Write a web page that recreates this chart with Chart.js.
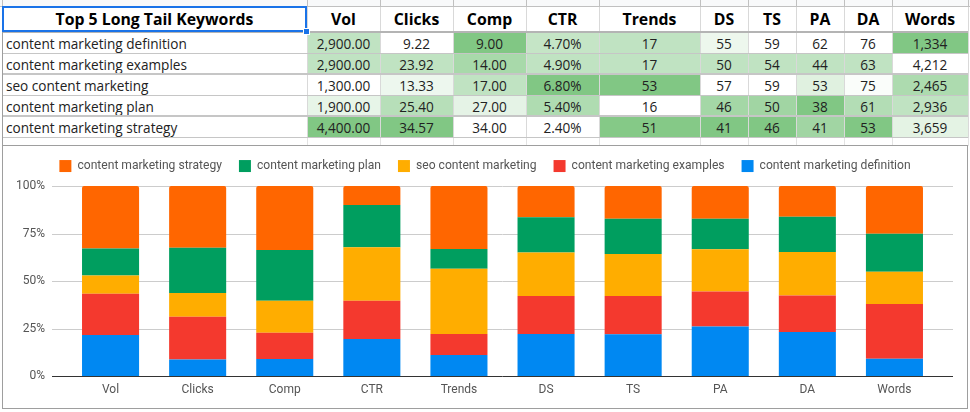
<!DOCTYPE html>
<html>
<head>
<meta charset="utf-8">
<script src="https://cdn.jsdelivr.net/npm/chart.js@4.4.1/dist/chart.umd.min.js"></script>
<style>
  body { margin: 0; width: 970px; height: 412px; position: relative; overflow: hidden; background: #fff; }
  .cell { position: absolute; box-sizing: border-box; font-family: 'Open Sans', sans-serif; font-size: 13.6px; color: #222;
          display: flex; align-items: center; justify-content: center; white-space: nowrap; overflow: hidden; }
  .hdr { font-weight: 700; font-size: 15.8px; color: #000; }
  .kw { justify-content: flex-start; padding-left: 3px; }
  .hl { position: absolute; background: #c6c6c6; }
  .vl { position: absolute; background: #d9d9d9; width: 1px; }
  #box { position: absolute; left: 2px; top: 145px; width: 964px; height: 262px; border: 1px solid #9e9e9e; background: #fff; }
</style>
</head>
<body>
<div id="sheet"></div>
<div id="box"><canvas id="keyword_chart" width="964" height="262"></canvas></div>
<script>
const keywords = ['content marketing definition', 'content marketing examples', 'seo content marketing', 'content marketing plan', 'content marketing strategy'];
const metrics = ['Vol', 'Clicks', 'Comp', 'CTR', 'Trends', 'DS', 'TS', 'PA', 'DA', 'Words'];

const vol    = [2900, 2900, 1300, 1900, 4400];
const clicks = [9.22, 23.92, 13.33, 25.40, 34.57];
const comp   = [9, 14, 17, 27, 34];
const ctr    = [4.7, 4.9, 6.8, 5.4, 2.4];
const trends = [17, 17, 53, 16, 51];
const ds     = [55, 50, 57, 46, 41];
const ts     = [59, 54, 59, 50, 46];
const pa     = [62, 44, 53, 38, 41];
const da     = [76, 63, 75, 61, 53];
const words  = [1334, 4212, 2465, 2936, 3659];

const columns = [vol, clicks, comp, ctr, trends, ds, ts, pa, da, words];
const yTicks = [0, 25, 50, 75, 100];

// ---- spreadsheet table ----
const colX = [2, 307, 380, 453, 526, 599, 700, 748, 796, 844, 892, 968];
const reversed = [false, false, true, false, false, true, true, true, true, true]; // low value = green
const fmt = [
  v => v.toLocaleString('en-US', {minimumFractionDigits: 2}),
  v => v.toFixed(2),
  v => v.toFixed(2),
  v => v.toFixed(2) + '%',
  v => String(v), v => String(v), v => String(v), v => String(v), v => String(v),
  v => v.toLocaleString('en-US')
];

function scaleColor(v, arr, rev) {
  const s = [...arr].sort((a, b) => a - b);
  const min = s[0], med = s[2], max = s[s.length - 1];
  let t = v <= med ? (med === min ? 0 : 0.5 * (v - min) / (med - min)) : 0.5 + 0.5 * (v - med) / (max - med);
  if (rev) t = 1 - t;
  const c = [255 + (129 - 255) * t, 255 + (199 - 255) * t, 255 + (132 - 255) * t].map(Math.round);
  return `rgb(${c.join(',')})`;
}

const sheet = document.getElementById('sheet');
function add(cls, style, text) {
  const d = document.createElement('div');
  d.className = cls;
  Object.assign(d.style, style);
  if (text !== undefined) d.textContent = text;
  sheet.appendChild(d);
  return d;
}

// column header strip
add('', {position: 'absolute', left: '0px', top: '0px', width: '970px', height: '6px', background: '#f8f9fa', borderBottom: '1px solid #c0c0c0'});
colX.forEach(x => add('vl', {left: x + 'px', top: '0px', height: '6px', background: '#c0c0c0'}));

const rowTop = [33, 54, 75, 96, 117];
const rowH = 20;

// header row
add('cell hdr', {left: '2px', top: '7px', width: '305px', height: '24px'}, 'Top 5 Long Tail Keywords');
metrics.forEach((m, j) => add('cell hdr', {left: colX[j + 1] + 'px', top: '7px', width: (colX[j + 2] - colX[j + 1]) + 'px', height: '24px'}, m));

// data rows
keywords.forEach((k, i) => {
  add('cell kw', {left: '3px', top: rowTop[i] + 'px', width: '304px', height: rowH + 'px'}, k);
  columns.forEach((col, j) => {
    add('cell', {left: colX[j + 1] + 'px', top: rowTop[i] + 'px', width: (colX[j + 2] - colX[j + 1]) + 'px', height: rowH + 'px',
      background: scaleColor(col[i], col, reversed[j])}, fmt[j](col[i]));
  });
});

// grid lines
colX.forEach(x => add('vl', {left: x + 'px', top: '7px', height: '131px'}));
add('hl', {left: '2px', top: '31px', width: '966px', height: '2px', background: '#b4b4b4'});
[53, 74, 95, 116, 137].forEach((y, i) => add('hl', {left: '2px', width: '966px', height: (i % 2 ? 2 : 1) + 'px', top: (i % 2 ? y - 1 : y) + 'px'}));
colX.forEach(x => add('vl', {left: x + 'px', top: '138px', height: '8px', background: '#e3e3e3'}));
add('vl', {left: '2px', top: '6px', height: '140px', background: '#9e9e9e'});

// selected header cell
add('', {position: 'absolute', left: '2px', top: '6px', width: '305px', height: '26px', border: '2px solid #1a73e8', boxSizing: 'border-box'});
add('', {position: 'absolute', left: '303px', top: '28px', width: '7px', height: '7px', background: '#1a73e8', border: '1px solid #fff', boxSizing: 'border-box'});

// ---- chart ----
const colors = ['#0088f2', '#f4392e', '#ffad00', '#009e5f', '#ff6600'];
const totals = columns.map(col => col.reduce((a, b) => a + b, 0));

const datasets = keywords.map((k, i) => ({
  label: k,
  data: columns.map((col, j) => col[i] / totals[j] * 100),
  backgroundColor: colors[i],
  borderWidth: 0,
  borderSkipped: false,
  borderRadius: i === keywords.length - 1 ? {topLeft: 2, topRight: 2} : 0,
  categoryPercentage: 1,
  barPercentage: 0.655
}));

const wideGrid = {
  id: 'wideGrid',
  afterInit(chart) {
    const fit = chart.legend.fit;
    chart.legend.fit = function () { fit.call(this); this.height += 4; };
  },
  beforeDatasetsDraw(chart) {
    const {ctx, chartArea, scales: {y}} = chart;
    ctx.save();
    ctx.strokeStyle = '#cccccc';
    ctx.lineWidth = 1;
    yTicks.slice(1).forEach(v => {
      const py = Math.round(y.getPixelForValue(v)) + 0.5;
      ctx.beginPath(); ctx.moveTo(chartArea.left - 15, py); ctx.lineTo(chartArea.right + 15, py); ctx.stroke();
    });
    ctx.restore();
  },
  afterDatasetsDraw(chart) {
    const {ctx, chartArea, scales: {y}} = chart;
    const py = Math.round(y.getPixelForValue(0)) + 0.5;
    ctx.save();
    ctx.strokeStyle = '#333333';
    ctx.beginPath(); ctx.moveTo(chartArea.left - 15, py); ctx.lineTo(chartArea.right + 15, py); ctx.stroke();
    ctx.restore();
  }
};

new Chart(document.getElementById('keyword_chart'), {
  type: 'bar',
  data: { labels: metrics, datasets },
  plugins: [wideGrid],
  options: {
    responsive: false,
    animation: false,
    layout: { padding: { top: -3, right: 0, bottom: 0, left: 0 } },
    plugins: {
      legend: {
        display: true,
        position: 'top',
        reverse: true,
        labels: {
          boxWidth: 12,
          boxHeight: 12,
          padding: 17,
          color: '#555',
          font: { family: 'Roboto', size: 12.1 }
        }
      },
      tooltip: { enabled: false }
    },
    scales: {
      x: {
        stacked: true,
        grid: { display: false, drawTicks: false },
        border: { display: false },
        ticks: { color: '#555', padding: 7, font: { family: 'Roboto', size: 12 } },
        afterFit: s => { s.height = 32; }
      },
      y: {
        stacked: true,
        min: 0,
        max: 100,
        grid: { display: false, drawTicks: false },
        border: { display: false },
        ticks: {
          stepSize: 25,
          padding: 22,
          color: '#555',
          font: { family: 'Roboto', size: 12 },
          callback: v => yTicks.includes(v) ? v + '%' : ''
        },
        afterFit: s => { s.width = 64; }
      },
      yRight: {
        position: 'right',
        grid: { display: false, drawTicks: false },
        border: { display: false },
        ticks: { display: false },
        afterFit: s => { s.width = 29; }
      }
    }
  }
});
</script>
</body>
</html>
